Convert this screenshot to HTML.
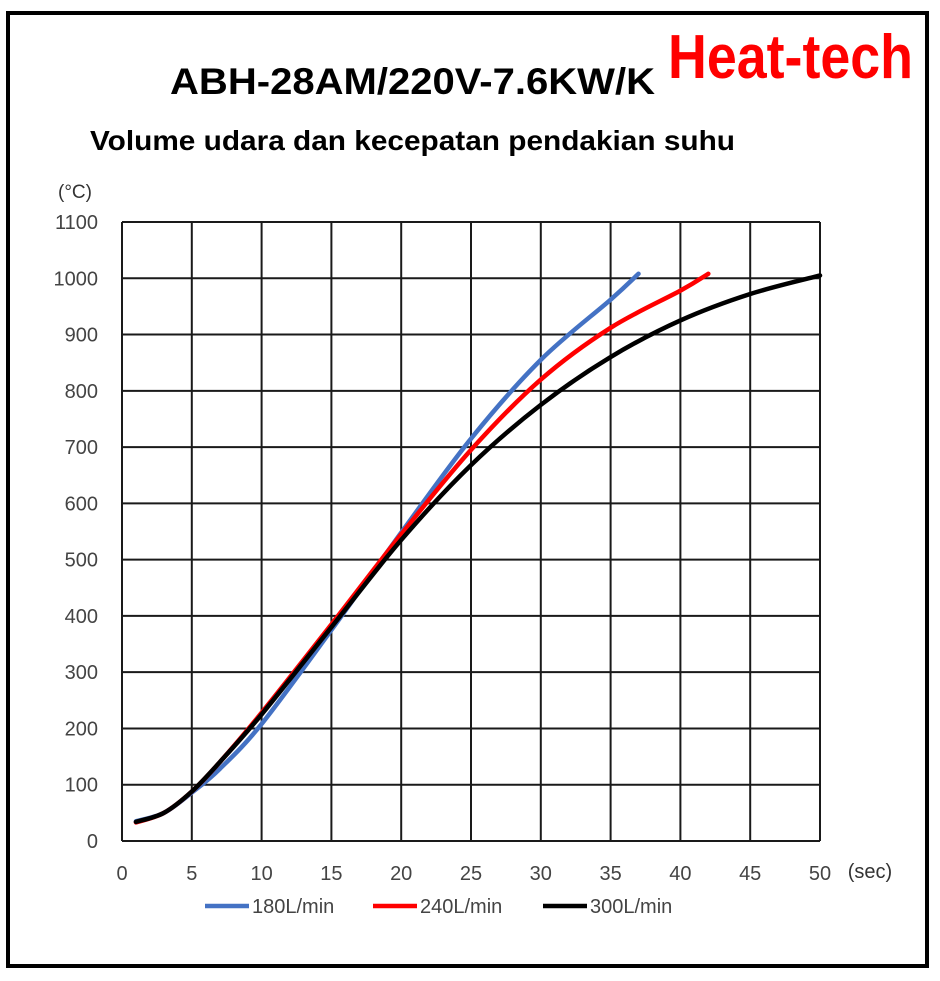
<!DOCTYPE html>
<html><head><meta charset="utf-8"><style>
body{margin:0;background:#fff;font-family:"Liberation Sans",sans-serif}
#wrap{position:relative;width:940px;height:981px;overflow:hidden}
</style></head><body>
<div id="wrap">
<svg id="svg" width="940" height="981" xmlns="http://www.w3.org/2000/svg">
<rect x="8" y="13" width="919" height="953" fill="none" stroke="#000" stroke-width="4"/>
<text x="170" y="94" font-size="37" font-weight="bold" textLength="485" lengthAdjust="spacingAndGlyphs" fill="#000">ABH-28AM/220V-7.6KW/K</text>
<text x="668" y="78" font-size="62" font-weight="bold" textLength="245" lengthAdjust="spacingAndGlyphs" fill="#f00">Heat-tech</text>
<text x="90" y="150" font-size="28" font-weight="bold" textLength="645" lengthAdjust="spacingAndGlyphs" fill="#000">Volume udara dan kecepatan pendakian suhu</text>
<text x="75" y="198" font-size="19" fill="#333" text-anchor="middle">(°C)</text>
<text x="870" y="878" font-size="20" fill="#333" text-anchor="middle">(sec)</text>
<g id="grid"></g><g id="ticks"></g><g id="series"></g><g id="legend"></g>
</svg>
</div>
<script>
const xTicks=[0,5,10,15,20,25,30,35,40,45,50];
const yTicks=[0,100,200,300,400,500,600,700,800,900,1000,1100];
const seriesNames=["180L/min","240L/min","300L/min"];
const seriesColors=["#4472C4","#FF0000","#000000"];
const blueX=[1,3,5,7,10,15,20,25,30,35,37];
const blueY=[35,50,86,128,208,375,548,715,855,962,1008];
const redX=[1,3,5,7,10,15,20,25,30,35,40,42];
const redY=[33,50,88,140,228,385,545,695,820,912,978,1008];
const blackX=[1,3,5,7,10,15,20,25,30,35,40,45,50];
const blackY=[34,50,88,140,225,380,535,668,775,860,925,972,1005];
const xs=[blueX,redX,blackX], ys=[blueY,redY,blackY];
const X0=122,X1=820,Y0=841,Y1=222;
const sx=v=>X0+(v-0)/(50-0)*(X1-X0);
const sy=v=>Y0-(v-0)/(1100-0)*(Y0-Y1);
const NS="http://www.w3.org/2000/svg";
function mk(tag,attrs,parent){const e=document.createElementNS(NS,tag);for(const k in attrs)e.setAttribute(k,attrs[k]);parent.appendChild(e);return e;}
const grid=document.getElementById('grid'),ticks=document.getElementById('ticks'),series=document.getElementById('series'),legend=document.getElementById('legend');
xTicks.forEach(t=>{
 const l=mk('line',{x1:sx(t),x2:sx(t),y1:Y1,y2:Y0,stroke:'#1a1a1a','stroke-width':2},grid);
 
 
 const tx=mk('text',{x:sx(t),y:880,'font-size':20,fill:'#444','text-anchor':'middle'},ticks);
 tx.textContent=t;
 
 
});
yTicks.forEach(t=>{
 const l=mk('line',{x1:X0,x2:X1,y1:sy(t),y2:sy(t),stroke:'#1a1a1a','stroke-width':2},grid);
 
 
 const tx=mk('text',{x:98,y:sy(t)+7,'font-size':20,fill:'#444','text-anchor':'end'},ticks);
 tx.textContent=t;
 
 
});
function smooth(px,py){
 let d=`M${px[0]},${py[0]}`;
 for(let i=0;i<px.length-1;i++){
  const p0=i?i-1:i,p3=i+2<px.length?i+2:i+1;
  const c1x=px[i]+(px[i+1]-px[p0])/6,c1y=py[i]+(py[i+1]-py[p0])/6;
  const c2x=px[i+1]-(px[p3]-px[i])/6,c2y=py[i+1]-(py[p3]-py[i])/6;
  d+=` C${c1x},${c1y} ${c2x},${c2y} ${px[i+1]},${py[i+1]}`;
 }
 return d;
}
xs.forEach((arr,k)=>{
 const p=mk('path',{d:smooth(arr.map(sx),ys[k].map(sy)),fill:'none',stroke:seriesColors[k],'stroke-width':4.5,'stroke-linecap':'round'},series);
 
 
});
const legX=[205,373,543];
seriesNames.forEach((n,k)=>{
 const l=mk('line',{x1:legX[k],x2:legX[k]+44,y1:906,y2:906,stroke:seriesColors[k],'stroke-width':4.5},legend);
 
 
 const t=mk('text',{x:legX[k]+47,y:913,'font-size':20,fill:'#444'},legend);
 t.textContent=n;
 
 
});
</script>
</body></html>
